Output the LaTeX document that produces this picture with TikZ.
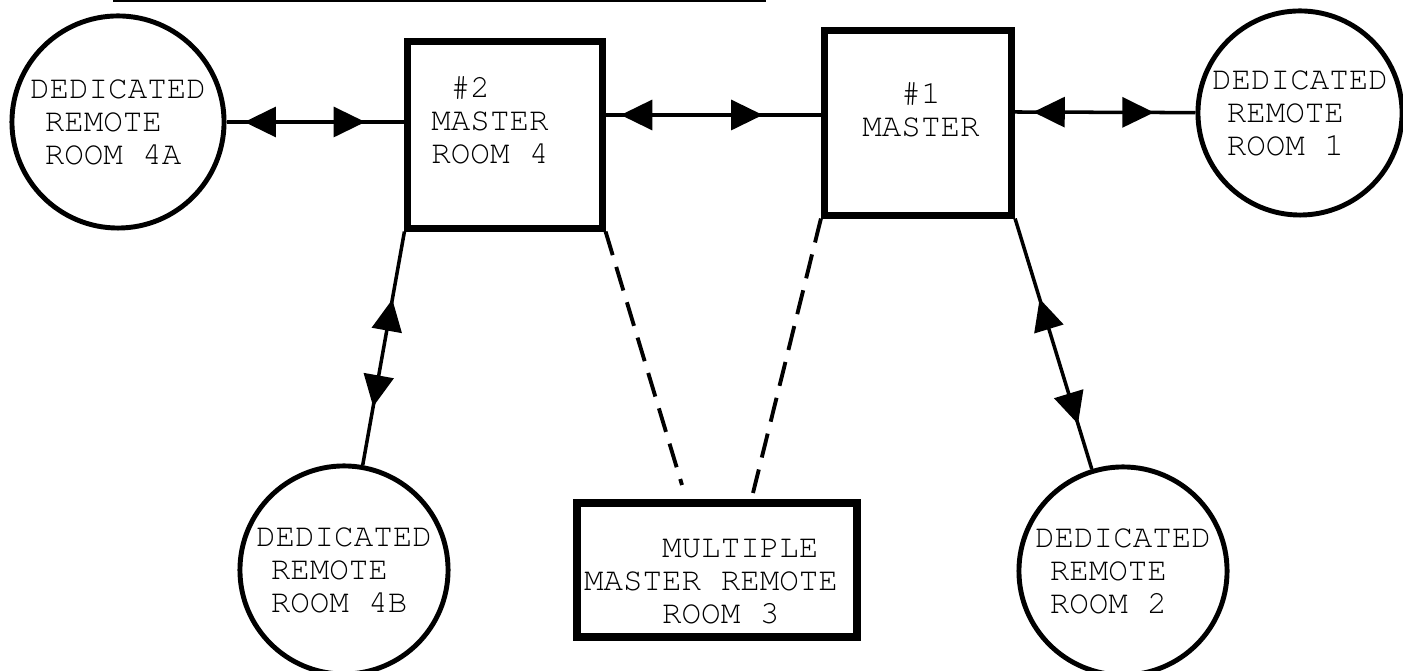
\documentclass[tikz,border=0pt]{standalone}
\usepackage{fontspec}
\newfontfamily\typewr{TeX Gyre Cursor}
\usetikzlibrary{positioning}
\usetikzlibrary{arrows.meta}
\usetikzlibrary{decorations.markings}
\tikzset{room node/.style={shape=circle,
    draw, line width=1.4pt, inner sep=0pt, align=left,
    font=\typewr\fontsize{9.25pt}{9.4pt}\selectfont}}
\tikzset{master node/.style={shape=rectangle,
    draw, line width=2pt, inner sep=0pt}}
\tikzset{box text/.style={inner sep=0pt,
    font=\typewr\fontsize{9.25pt}{9.4pt}\selectfont}}
\tikzset{link/.style={line width=1pt},
    dashlink/.style={line width=1.1pt, dash pattern=on 7pt off 3.5pt},
    twoway/.style 2 args={postaction={decorate},
    decoration={markings,
    mark=at position #1 with {\arrowreversed{Triangle[length=9pt,width=8.5pt]}},
    mark=at position #2 with {\arrow{Triangle[length=9pt,width=8.5pt]}}}}}

\begin{document}
\begin{tikzpicture}[x=0.01cm, y=-0.01cm]
    \useasboundingbox (0,0) rectangle (1403,671);

    \draw[line width=0.6pt] (113,1) -- (766,1);

    \node[master node, minimum width=1.94cm, minimum height=1.86cm] (master2) at (505,135) {};
    \node[master node, minimum width=1.87cm, minimum height=1.84cm] (master1) at (918,123) {};
    \node[master node, line width=2.3pt, minimum width=2.8cm, minimum height=1.34cm] (multi) at (717,570) {};

    \node[box text, align=left] (master2 text) at (490,120) {\hspace*{0.6em}\#2\\MASTER\\ROOM 4};
    \node[box text, align=center] (master1 text) at (921,110) {\#1\\MASTER};
    \node[box text, align=left] (multi text) at (711,582) {\hspace*{2.4em}MULTIPLE\\MASTER REMOTE\\\hspace*{2.4em}ROOM 3};

    \node[room node, minimum size=2.12cm] (room4a) at (118,122) {DEDICATED\\\hspace*{0.45em}REMOTE\\\hspace*{0.45em}ROOM 4A};
    \node[room node, minimum size=2.04cm] (room1) at (1300,113) {DEDICATED\\\hspace*{0.45em}REMOTE\\\hspace*{0.45em}ROOM 1};
    \node[room node, minimum size=2.08cm] (room4b) at (344,570) {DEDICATED\\\hspace*{0.45em}REMOTE\\\hspace*{0.45em}ROOM 4B};
    \node[room node, minimum size=2.08cm] (room2) at (1123,571) {DEDICATED\\\hspace*{0.45em}REMOTE\\\hspace*{0.45em}ROOM 2};

    \coordinate (dashL) at (682,485);
    \coordinate (dashR) at (753,493);

    \path[draw,link]
    (room4a) edge[twoway={0.1}{0.78}] (room4a -| master2.west)
    (master2.east |- 0,115) edge[twoway={0.07}{0.73}] (master1.west |- 0,115)
    (master1.east |- 0,112) edge[twoway={0.1}{0.77}] (room1)
    (master2.south west) edge[twoway={0.29}{0.75}] (room4b)
    (master1.south east) edge[twoway={0.32}{0.82}] (room2)
    ;

    \draw[dashlink] (master2.south east) -- (dashL);
    \draw[dashlink] (master1.south west) -- (dashR);
\end{tikzpicture}
\end{document}
